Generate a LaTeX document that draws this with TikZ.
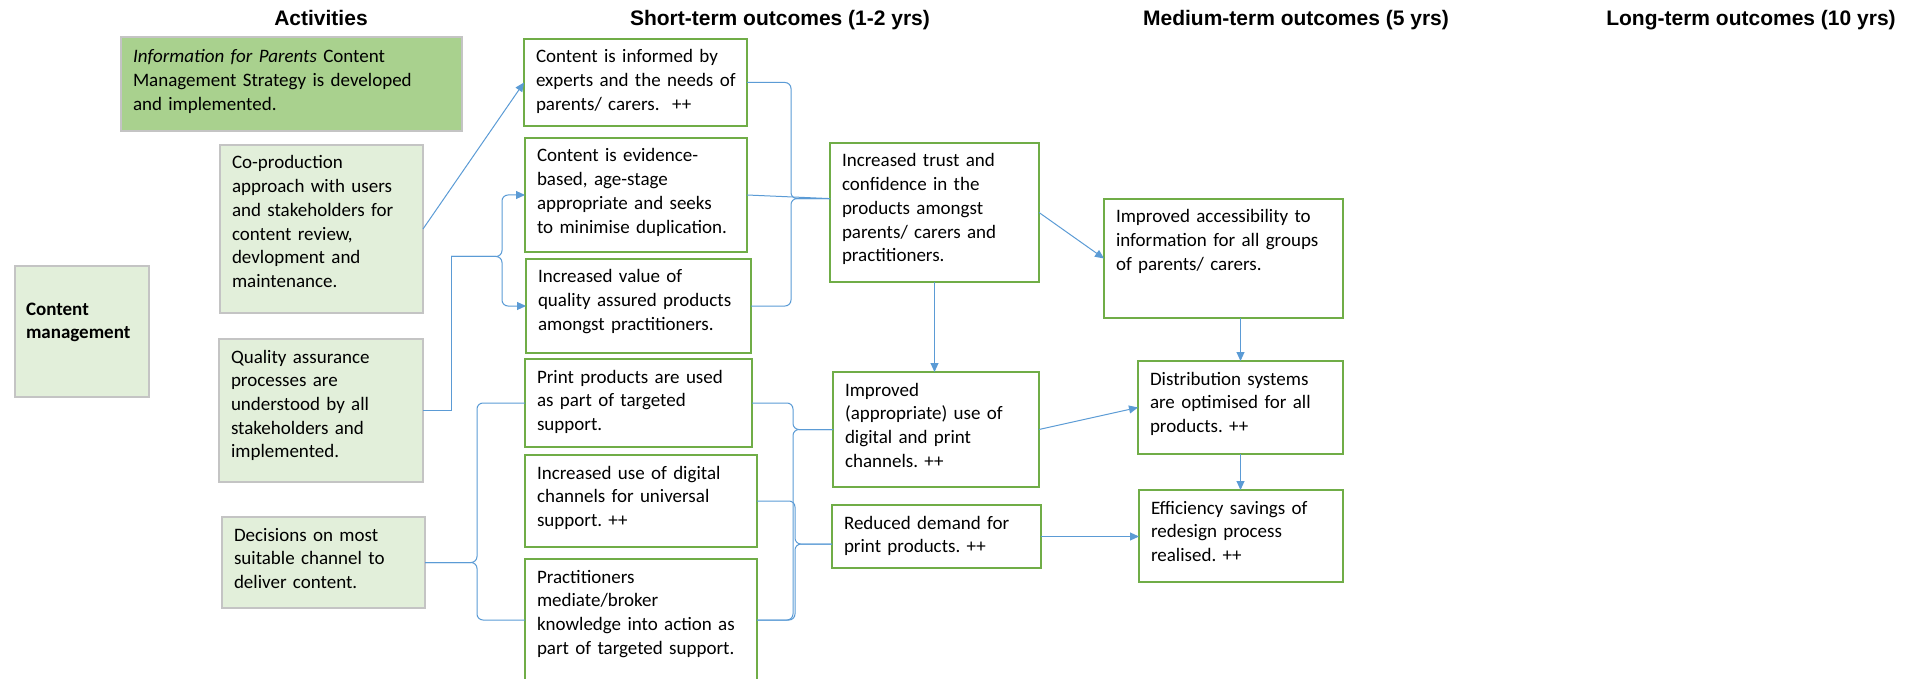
\documentclass[tikz,border=0pt]{standalone}
\usepackage{fontspec}
\setmainfont{Carlito}
\newfontfamily\headfont{Liberation Sans}
\usetikzlibrary{arrows.meta,calc}
\hyphenpenalty=10000
\frenchspacing
\definecolor{boxgreen}{HTML}{70AD47}
\definecolor{actfill}{HTML}{E2EFDA}
\definecolor{stratfill}{HTML}{A9D18E}
\definecolor{actline}{HTML}{C4C4C4}
\definecolor{linkblue}{HTML}{5B9BD5}
\tikzset{
    box/.style={anchor=north west, outer sep=0pt, inner xsep=12pt, inner ysep=6pt,
        align=left, text height=18pt, font=\fontsize{19}{23.7}\selectfont},
    act/.style={box, draw=actline, line width=1.3pt, fill=actfill},
    outcome/.style={box, draw=boxgreen, line width=2.8pt, fill=white},
    head/.style={anchor=base, font=\headfont\bfseries\fontsize{21}{25}\selectfont},
    link/.style={draw=linkblue, line width=1pt},
    arr/.style={link, -{Triangle[length=9pt,width=8pt]}},
    brace/.style={link, rounded corners=6pt},
}
\begin{document}
    \begin{tikzpicture}[x=1pt,y=-1pt]
        \useasboundingbox (0,0) rectangle (1915,679);
        %titoli
        \node[head] (hact) at (321,26) {Activities};
        \node[head] (hshort) at (780,26) {Short-term outcomes (1-2 yrs)};
        \node[head] (hmed) at (1296,26) {Medium-term outcomes (5 yrs)};
        \node[head] (hlong) at (1751,26) {Long-term outcomes (10 yrs)};
        %attivita
        \node[act, fill=stratfill, text width=317pt, text height=20pt, text depth=62pt] (info) at (121,37)
            {\textit{Information for Parents} Content\\Management Strategy is developed\\and implemented.};
        \node[act, text width=179pt, text depth=138pt] (coprod) at (220,145)
            {Co-production\\approach with users\\and stakeholders for\\content review,\\devlopment and\\maintenance.};
        \node[act, inner xsep=11pt, text width=112pt, text height=43pt, text depth=76pt, font=\fontsize{19}{23.7}\selectfont\bfseries] (cm) at (15,266)
            {Content\\management};
        \node[act, text width=180pt, text depth=113pt] (qa) at (219,339)
            {Quality assurance\\processes are\\understood by all\\stakeholders and\\implemented.};
        \node[act, text width=179pt, text depth=61pt] (dec) at (222,517)
            {Decisions on most\\suitable channel to\\deliver content.};
        %esiti a breve termine
        \node[outcome, text width=199pt, text depth=57pt] (inf) at (524,39)
            {Content is informed by\\\mbox{experts and the needs of}\\parents/ carers.\ \ ++};
        \node[outcome, text width=198pt, text depth=84pt] (evid) at (525,138)
            {Content is evidence-\\based, age-stage\\appropriate and seeks\\to minimise duplication.};
        \node[outcome, text width=201pt, text depth=64pt] (val) at (526,259)
            {Increased value of\\quality assured products\\amongst practitioners.};
        \node[outcome, text width=203pt, text depth=58pt] (print) at (525,359)
            {Print products are used\\as part of targeted\\support.};
        \node[outcome, text width=208pt, text depth=62pt] (digit) at (525,455)
            {Increased use of digital\\channels for universal\\support. ++};
        \node[outcome, text width=208pt, text depth=92pt] (pract) at (525,559)
            {Practitioners\\mediate/broker\\knowledge into action as\\part of targeted support.};
        %esiti intermedi
        \node[outcome, text width=185pt, text depth=109pt] (trust) at (830,143)
            {Increased trust and\\confidence in the\\products amongst\\parents/ carers and\\practitioners.};
        \node[outcome, text width=182pt, text depth=85pt] (impr) at (833,372)
            {Improved\\(appropriate) use of\\digital and print\\channels. ++};
        \node[outcome, text width=185pt, text depth=33pt] (red) at (832,505)
            {Reduced demand for\\print products. ++};
        \node[outcome, text width=215pt, text depth=89pt] (acc) at (1104,199)
            {Improved accessibility to\\information for all groups\\of parents/ carers.};
        \node[outcome, text width=181pt, text depth=63pt] (dist) at (1138,361)
            {Distribution systems\\are optimised for all\\products. ++};
        \node[outcome, text width=180pt, text depth=62pt] (eff) at (1139,490)
            {Efficiency savings of\\redesign process\\realised. ++};
        %collegamenti dalle attivita
        \draw[arr] (coprod.east) -- (inf.west);
        \coordinate (qasplit) at (451,256.5);
        \coordinate (qabr) at (502,256.5);
        \draw[link] (qa.east) -| (qasplit);
        \draw[brace, arr] (qasplit) -- (qabr) |- (evid.west);
        \draw[brace, arr] (qasplit) -- (qabr) |- (val.west);
        \coordinate (decbr) at ($(dec.east)+(52,0)$);
        \draw[brace] (dec.east) -- (decbr) |- (print.west);
        \draw[brace] (dec.east) -- (decbr) |- (pract.west);
        %parentesi verso gli esiti
        \coordinate (trustin) at ($(trust.north west)!0.4!(trust.south west)$);
        \coordinate (trustbr) at ($(trustin)+(-39,0)$);
        \draw[brace] (inf.east) -| (trustbr) -- (trustin);
        \draw[brace] (val.east) -| (trustbr) -- (trustin);
        \draw[link] (evid.east) -- (trustin);
        \coordinate (imprbr) at ($(impr.west)+(-40,0)$);
        \draw[brace] (print.east) -| (imprbr) -- (impr.west);
        \draw[brace] (pract.east) -| (imprbr) -- (impr.west);
        \coordinate (redin) at ($(red.north west)!0.62!(red.south west)$);
        \coordinate (redbr) at ($(redin)+(-37,0)$);
        \draw[brace] (digit.east) -| (redbr) -- (redin);
        \draw[brace] (pract.east) -| (redbr) -- (redin);
        %frecce
        \draw[arr] (trust.south) -- (trust.south |- impr.north);
        \draw[arr] (trust.east) -- (acc.west);
        \draw[arr] (impr.east) -- (dist.west);
        \draw[arr] (dist.north |- acc.south) -- (dist.north);
        \draw[arr] (dist.south) -- (dist.south |- eff.north);
        \draw[arr] (red.east) -- (red.east -| eff.west);
    \end{tikzpicture}
\end{document}
